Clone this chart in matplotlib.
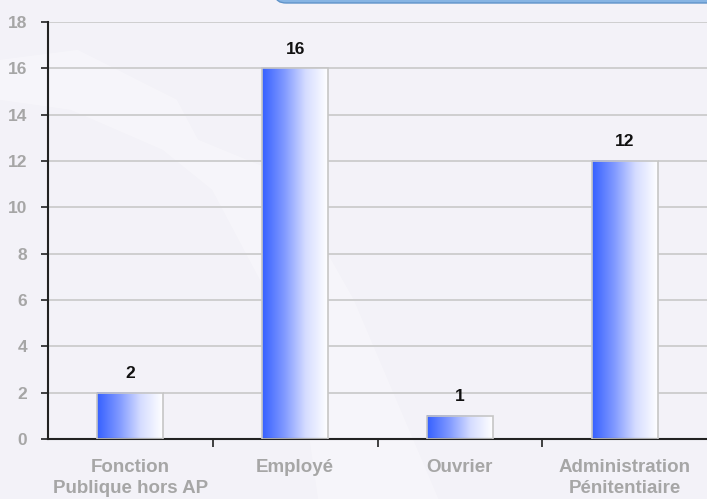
import matplotlib.pyplot as plt
import numpy as np
from matplotlib.colors import LinearSegmentedColormap
from matplotlib.patches import Polygon, FancyBboxPatch

categories = ["Fonction\nPublique hors AP", "Employé", "Ouvrier", "Administration\nPénitentiaire"]
values = [2, 16, 1, 12]
yticks = [0, 2, 4, 6, 8, 10, 12, 14, 16, 18]

plt.rcParams['font.family'] = ['Liberation Sans', 'DejaVu Sans']

bg = "#f3f2f8"
fig = plt.figure(figsize=(7.07, 4.99), dpi=100, facecolor=bg)

# faint watermark shapes and top banner (behind the axes)
fig.patches.append(Polygon([[0, 0.88], [0.11, 0.9], [0.25, 0.8], [0.28, 0.72], [0.4, 0.65],
                            [0.5, 0.4], [0.62, 0.0], [0.45, 0.0], [0.42, 0.3], [0.3, 0.62],
                            [0.23, 0.7], [0.1, 0.78], [0, 0.8]],
                           closed=True, transform=fig.transFigure, facecolor="white",
                           alpha=0.3, edgecolor="none", zorder=-2))
fig.patches.append(FancyBboxPatch((0.39, 0.994), 0.7, 0.05, boxstyle="round,pad=0,rounding_size=0.015",
                                  transform=fig.transFigure, facecolor="#86b4e3",
                                  edgecolor="#5f93c9", linewidth=1, zorder=-1))

ax = fig.add_axes([0.068, 0.12, 0.932, 0.836])
ax.set_facecolor("none")
ax.set_zorder(1)

cmap = LinearSegmentedColormap.from_list("bar", ["#3560ff", "#7f98ff", "#d6ddff", "#ffffff"])
grad = np.linspace(0, 1, 256).reshape(1, -1)
width = 0.4
x = np.arange(len(categories))
bars = ax.bar(x, values, width=width, facecolor="none", edgecolor="#c6c6c6", linewidth=1.2, zorder=3)
for b in bars:
    x0, y0 = b.get_x(), b.get_y()
    ax.imshow(grad, cmap=cmap, aspect="auto", extent=[x0, x0 + b.get_width(), y0, y0 + b.get_height()],
              zorder=2, interpolation="bicubic")

for xi, v in zip(x, values):
    ax.text(xi, v + 0.5, str(v), ha="center", va="bottom", fontsize=12.5, fontweight="bold", color="#111111")

ax.set_xlim(-0.5, 3.5)
ax.set_ylim(0, 18)
ax.set_yticks(yticks)
ax.set_xticks(x)
ax.set_xticks([0.5, 1.5, 2.5], minor=True)
ax.set_xticklabels(categories, fontsize=13.5, fontweight="bold", color="#a6a6a6", linespacing=1.35)
ax.tick_params(axis="x", which="major", length=0, pad=14)
ax.tick_params(axis="x", which="minor", length=6, width=1.2, color="#222222")
ax.tick_params(axis="y", length=5, width=1.2, color="#222222", labelsize=12.5, labelcolor="#a6a6a6", pad=10)
for lab in ax.get_yticklabels():
    lab.set_fontweight("bold")
ax.yaxis.grid(True, color="#c8c8c8", linewidth=1.2, zorder=1)
ax.set_axisbelow(True)
for s in ["top", "right"]:
    ax.spines[s].set_visible(False)
for s in ["left", "bottom"]:
    ax.spines[s].set_color("#222222")
    ax.spines[s].set_linewidth(1.5)

fig.savefig("out.png", dpi=100, facecolor=bg)
